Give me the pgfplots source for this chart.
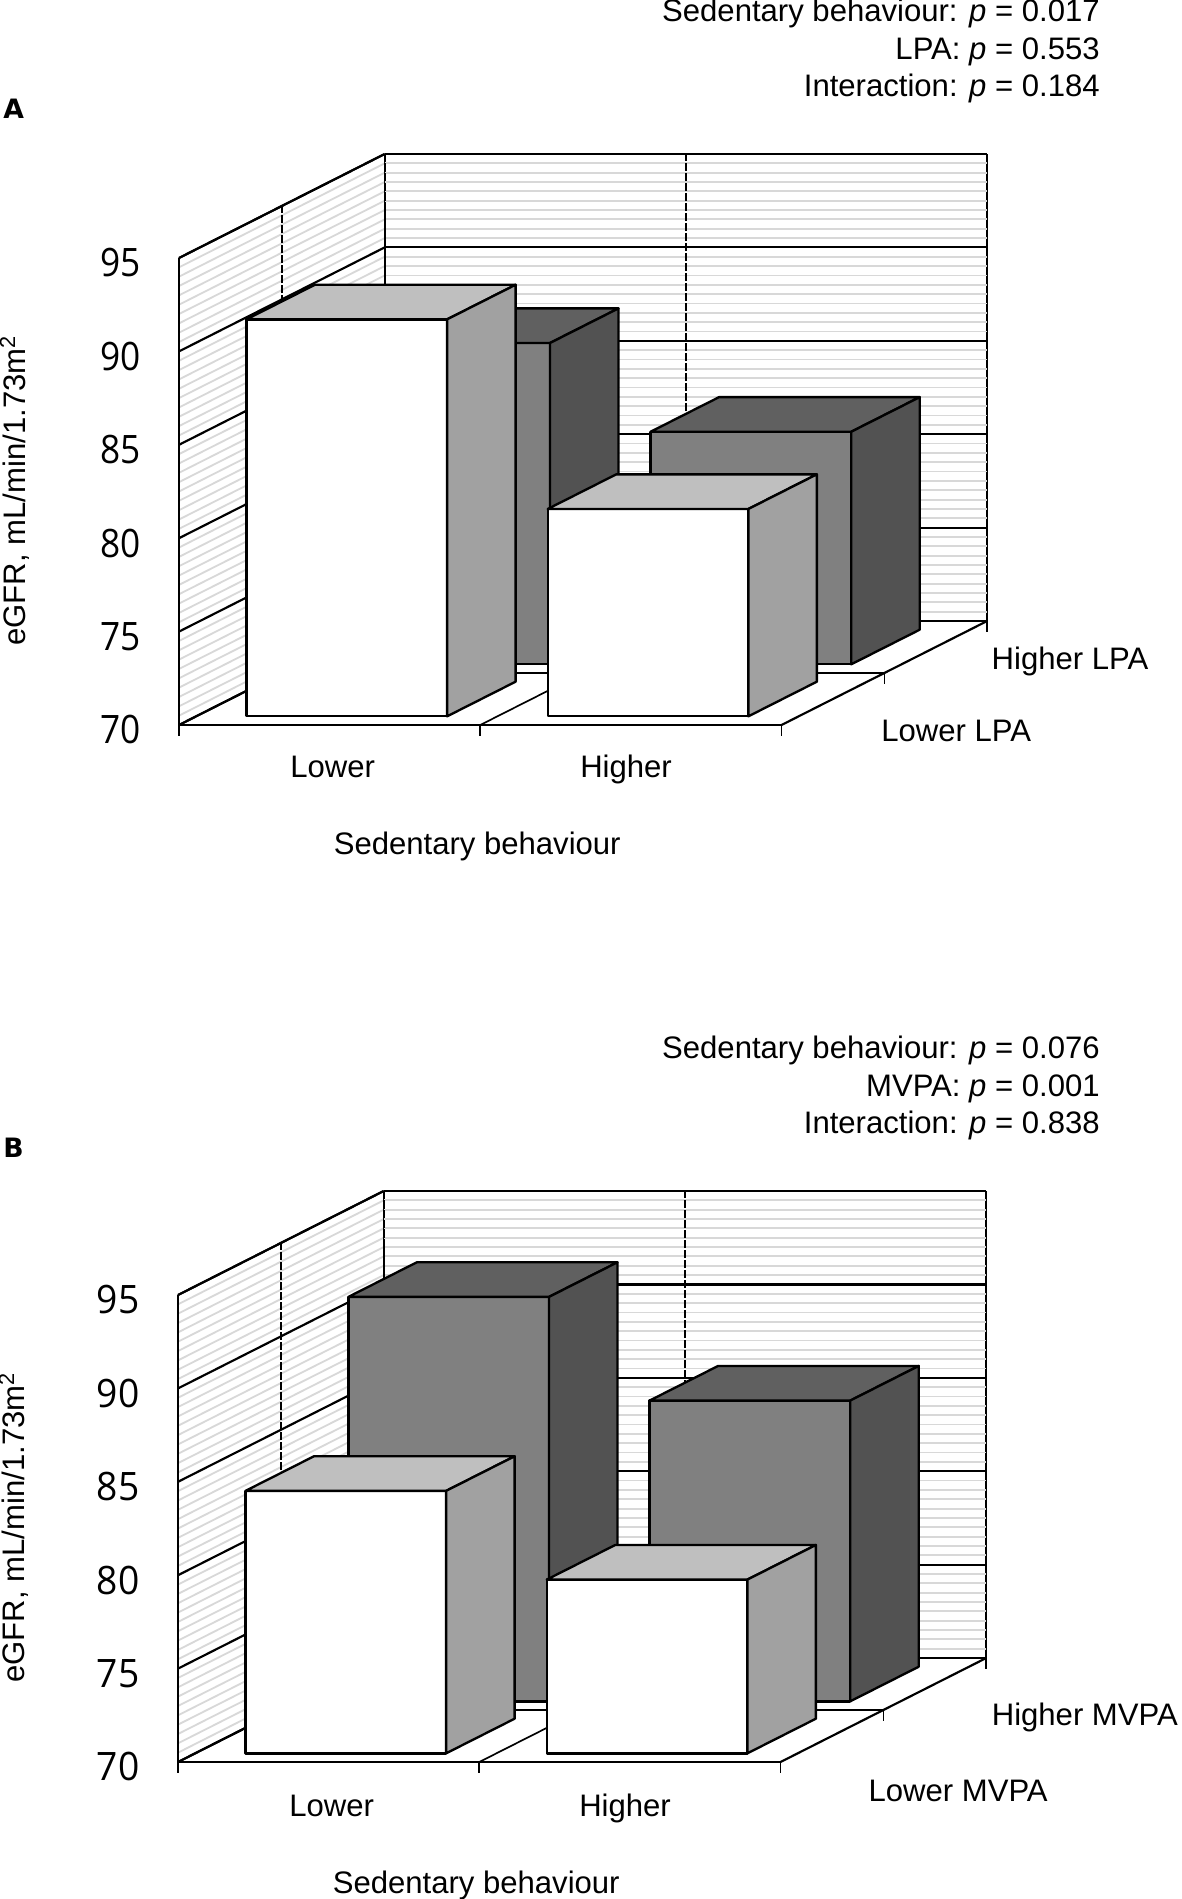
\documentclass[border=0pt]{standalone}
\usepackage{fontspec}
\setmainfont{Liberation Sans}
\newfontfamily\numfonta[FakeStretch=0.9]{Open Sans}
\newfontfamily\numfontb[FakeStretch=0.95]{Open Sans}
\newfontfamily\panelfont{DejaVu Sans}
\usepackage{pgfplots}
\pgfplotsset{compat=1.18}

\definecolor{stripe}{HTML}{D8D8D8}
\definecolor{wtop}{HTML}{BFBFBF}
\definecolor{wside}{HTML}{A1A1A1}
\definecolor{dfront}{HTML}{808080}
\definecolor{dtop}{HTML}{606060}
\definecolor{dside}{HTML}{525252}

% 1 reference pixel = 0.6pt
\newcommand{\txt}{\fontsize{18.65}{18.65}\selectfont}

\pgfplotsset{
  panel/.style={
    anchor=south west,
    clip=false,
    x={(180.75pt,0pt)}, y={(61.71pt,31.2pt)}, z={(0pt,11.208pt)},
    xmin=0, xmax=2, ymin=0, ymax=2, zmin=70, zmax=95,
    ztick={70,75,...,95},
    minor z tick num=9,
    xtick={0.51,1.484},
    xticklabels={Lower,Higher},
    major tick length=0pt, minor tick length=0pt,
    tick style={draw=none},
    zmajorgrids=true, zminorgrids=true,
    major grid style={black,line width=1.3pt},
    minor grid style={stripe,line width=1.1pt},
    axis line style={black,line width=1.3pt},
    /pgf/number format/assume math mode=true,
    zticklabel style={anchor=east,xshift=-19.6pt,yshift=-2.9pt},
    xticklabel style={font=\txt,anchor=base},
    yticklabel style={font=\txt,anchor=west},
    xlabel={Sedentary behaviour},
    zlabel={eGFR, mL/min/1.73m\textsuperscript{2}},
    label style={font=\txt},
  },
}

% x0 x1 d0 d1 value front top side
\newcommand{\cube}[8]{
  \addplot3[fill=#6,draw=black,line width=1.4pt,line join=round,forget plot] coordinates {(#1,#3,70) (#2,#3,70) (#2,#3,#5) (#1,#3,#5)} -- cycle;
  \addplot3[fill=#7,draw=black,line width=1.4pt,line join=round,forget plot] coordinates {(#1,#3,#5) (#2,#3,#5) (#2,#4,#5) (#1,#4,#5)} -- cycle;
  \addplot3[fill=#8,draw=black,line width=1.4pt,line join=round,forget plot] coordinates {(#2,#3,70) (#2,#4,70) (#2,#4,#5) (#2,#3,#5)} -- cycle;
}

% floor lines, wall verticals and the hanging ticks
\newcommand{\wallframe}{
  \addplot3[black,line width=1.1pt,dashed,dash pattern=on 5pt off 1pt,forget plot] coordinates {(0,1,70) (0,1,95)};
  \addplot3[black,line width=1.1pt,dashed,dash pattern=on 5pt off 1pt,forget plot] coordinates {(0,2,70) (0,2,95)};
  \addplot3[black,line width=1.1pt,dashed,dash pattern=on 5pt off 1pt,forget plot] coordinates {(1,2,70) (1,2,95)};
  \addplot3[black,line width=1pt,forget plot] coordinates {(1,0,70) (1,2,70)};
  \addplot3[black,line width=1pt,forget plot] coordinates {(0,1,70) (2,1,70)};
  \addplot3[black,line width=1pt,forget plot] coordinates {(0,0,70) (0,0,69.4)};
  \addplot3[black,line width=1pt,forget plot] coordinates {(1,0,70) (1,0,69.4)};
  \addplot3[black,line width=1pt,forget plot] coordinates {(2,0,70) (2,0,69.4)};
  \addplot3[black,line width=1pt,forget plot] coordinates {(2,1,70) (2,1,69.4)};
  \addplot3[black,line width=1pt,forget plot] coordinates {(2,2,70) (2,2,69.4)};
}

\begin{document}
\begin{tikzpicture}[x=0.6pt,y=-0.6pt]
\useasboundingbox (0,0) rectangle (1181,1899);
\coordinate (oa) at (179,725);
\coordinate (ob) at (178,1762);

% panel A
\begin{axis}[panel,at={(oa)},
    zticklabel style={font=\numfonta\fontsize{23.5}{23.5}\selectfont},
    ytick={0.5}, yticklabels={Lower LPA},
    extra y ticks={1.5}, extra y tick labels={Higher LPA},
    extra y tick style={yticklabel style={xshift=4.5pt,yshift=10.4pt}},
    yticklabel style={xshift=25.5pt,yshift=-19pt},
    xticklabel style={yshift=-31.3pt},
    xlabel style={at={(axis cs:0.99,0,63.5)},anchor=center},
    zlabel style={at={(axis cs:-0.545,0,82.55)},anchor=center},
]
\wallframe
\cube{1.167}{1.833}{1.167}{1.833}{82.45}{dfront}{dtop}{dside}
\cube{0.167}{0.833}{1.167}{1.833}{87.2}{dfront}{dtop}{dside}
\cube{0.167}{0.833}{0.167}{0.833}{91.25}{white}{wtop}{wside}
\cube{1.167}{1.833}{0.167}{0.833}{81.1}{white}{wtop}{wside}
\end{axis}

% panel B
\begin{axis}[panel,at={(ob)},
    zticklabel style={font=\numfontb\fontsize{23.5}{23.5}\selectfont},
    ytick={0.5}, yticklabels={Lower MVPA},
    extra y ticks={1.5}, extra y tick labels={Higher MVPA},
    extra y tick style={yticklabel style={xshift=12.2pt,yshift=12.6pt}},
    yticklabel style={xshift=18.5pt,yshift=-32.8pt},
    xticklabel style={yshift=-32.8pt},
    xlabel style={at={(axis cs:0.99,0,63.38)},anchor=center},
    zlabel style={at={(axis cs:-0.545,0,82.55)},anchor=center},
]
\wallframe
\cube{1.167}{1.833}{1.167}{1.833}{86.1}{dfront}{dtop}{dside}
\cube{0.167}{0.833}{1.167}{1.833}{91.65}{dfront}{dtop}{dside}
\cube{0.167}{0.833}{0.167}{0.833}{84.05}{white}{wtop}{wside}
\cube{1.167}{1.833}{0.167}{0.833}{79.3}{white}{wtop}{wside}
\end{axis}

\node[anchor=base east,inner sep=0pt,font=\txt] at (1100,22) {Sedentary behaviour: \textit{p} = 0.017};
\node[anchor=base east,inner sep=0pt,font=\txt] at (1100,60) {LPA: \textit{p} = 0.553};
\node[anchor=base east,inner sep=0pt,font=\txt] at (1100,97) {Interaction: \textit{p} = 0.184};
\node[anchor=base east,inner sep=0pt,font=\txt] at (1100,1058) {Sedentary behaviour: \textit{p} = 0.076};
\node[anchor=base east,inner sep=0pt,font=\txt] at (1100,1096) {MVPA: \textit{p} = 0.001};
\node[anchor=base east,inner sep=0pt,font=\txt] at (1100,1133) {Interaction: \textit{p} = 0.838};
\node[anchor=base west,inner sep=0pt,font=\panelfont\bfseries\fontsize{16}{16}\selectfont] at (3,119) {A};
\node[anchor=base west,inner sep=0pt,font=\panelfont\bfseries\fontsize{16}{16}\selectfont] at (3,1157) {B};
\end{tikzpicture}
\end{document}
